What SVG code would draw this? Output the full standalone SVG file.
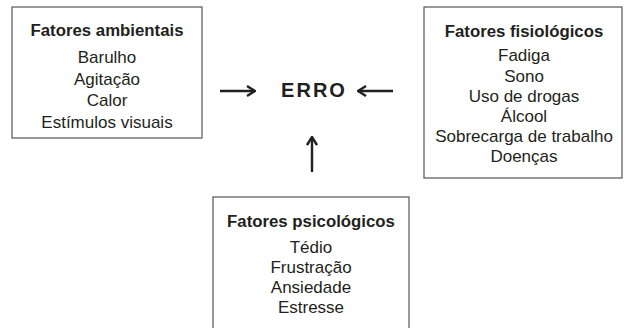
<svg xmlns="http://www.w3.org/2000/svg" width="626" height="328" viewBox="0 0 626 328">
<style>
.box{fill:#fff;stroke:#555;stroke-width:1.2}
.t{font-family:"Liberation Sans",Arial,sans-serif;font-size:17px;fill:#231f20;text-anchor:middle}
.b{font-weight:bold;font-size:16.8px}
.e{font-family:"Liberation Sans",Arial,sans-serif;font-size:20px;font-weight:bold;fill:#231f20;text-anchor:middle;letter-spacing:2px}
.c{stroke:#231f20;stroke-width:2.4;fill:none}
</style>
<defs>
<marker id="ah" viewBox="0 0 10 12" refX="9" refY="6" markerWidth="10" markerHeight="12" markerUnits="userSpaceOnUse" orient="auto">
<path d="M1,1 L9,6 L1,11" fill="none" stroke="#231f20" stroke-width="2.4"/>
</marker>
</defs>
<rect width="626" height="328" fill="#fff"/>
<g id="ambientais">
<rect class="box" x="12" y="7" width="190" height="131"/>
<text class="t b" x="107" y="36">Fatores ambientais</text>
<text class="t" x="107" y="63">Barulho</text>
<text class="t" x="107" y="85">Agitação</text>
<text class="t" x="107" y="106">Calor</text>
<text class="t" x="107" y="128">Estímulos visuais</text>
</g>
<g id="fisiologicos">
<rect class="box" x="424" y="7" width="198" height="171"/>
<text class="t b" x="524" y="37">Fatores fisiológicos</text>
<text class="t" x="524" y="61">Fadiga</text>
<text class="t" x="524" y="82">Sono</text>
<text class="t" x="524" y="102">Uso de drogas</text>
<text class="t" x="524" y="122">Álcool</text>
<text class="t" x="524" y="142">Sobrecarga de trabalho</text>
<text class="t" x="524" y="162">Doenças</text>
</g>
<g id="psicologicos">
<rect class="box" x="213" y="197" width="196" height="140"/>
<text class="t b" x="311" y="227">Fatores psicológicos</text>
<text class="t" x="311" y="253">Tédio</text>
<text class="t" x="311" y="273">Frustração</text>
<text class="t" x="311" y="293">Ansiedade</text>
<text class="t" x="311" y="313">Estresse</text>
</g>
<g id="erro">
<text class="e" x="314" y="97">ERRO</text>
</g>
<g id="connectors">
<line class="c" x1="220" y1="91" x2="255" y2="91" marker-end="url(#ah)"/>
<line class="c" x1="393" y1="91" x2="358" y2="91" marker-end="url(#ah)"/>
<line class="c" x1="312" y1="172" x2="312" y2="137" marker-end="url(#ah)"/>
</g>
</svg>
